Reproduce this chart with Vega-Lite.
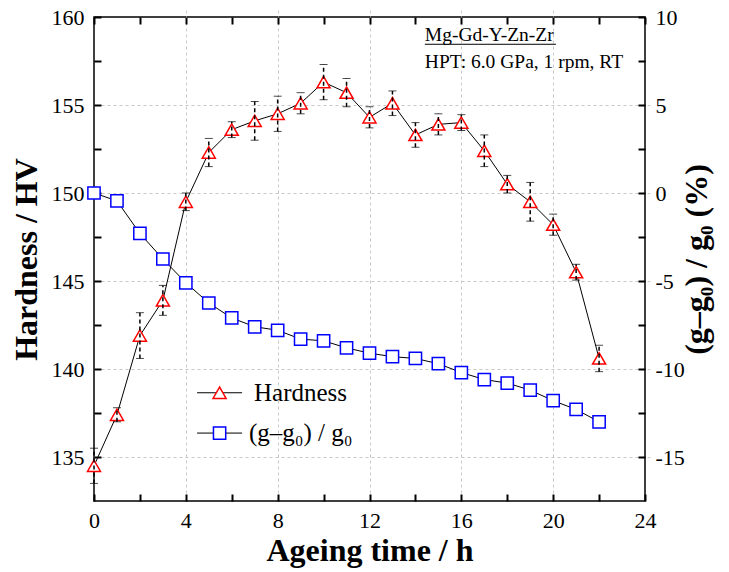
{
  "$schema": "https://vega.github.io/schema/vega-lite/v6.json",
  "width": 551,
  "height": 484,
  "autosize": {"type": "none"},
  "padding": {"left": 94, "top": 17, "right": 84, "bottom": 71},
  "background": "white",
  "config": {
    "font": "Liberation Serif",
    "view": {"stroke": "black", "strokeWidth": 1.5},
    "axis": {
      "labelFont": "Liberation Serif", "labelFontSize": 22, "labelColor": "black",
      "titleFont": "Liberation Serif", "titleFontSize": 32, "titleFontWeight": "bold", "titleColor": "black",
      "domain": false, "ticks": true, "tickColor": "black", "tickOpacity": 1, "tickWidth": 2, "tickSize": 7, "offset": -7,
      "labelFlush": false, "labelOverlap": false,
      "gridColor": "#c8c8c8", "gridDash": [3, 3], "gridWidth": 1
    }
  },
  "datasets": {
    "main": [
      {"s": "Hardness", "t": 0, "v": 134.5, "err": 1.0},
      {"s": "Hardness", "t": 1, "v": 137.4, "err": 0.4},
      {"s": "Hardness", "t": 2, "v": 141.9, "err": 1.3},
      {"s": "Hardness", "t": 3, "v": 143.9, "err": 0.85},
      {"s": "Hardness", "t": 4, "v": 149.5, "err": 0.5},
      {"s": "Hardness", "t": 5, "v": 152.3, "err": 0.8},
      {"s": "Hardness", "t": 6, "v": 153.6, "err": 0.45},
      {"s": "Hardness", "t": 7, "v": 154.1, "err": 1.1},
      {"s": "Hardness", "t": 8, "v": 154.5, "err": 1.0},
      {"s": "Hardness", "t": 9, "v": 155.1, "err": 0.6},
      {"s": "Hardness", "t": 10, "v": 156.3, "err": 1.0},
      {"s": "Hardness", "t": 11, "v": 155.7, "err": 0.8},
      {"s": "Hardness", "t": 12, "v": 154.3, "err": 0.6},
      {"s": "Hardness", "t": 13, "v": 155.1, "err": 0.7},
      {"s": "Hardness", "t": 14, "v": 153.3, "err": 0.7},
      {"s": "Hardness", "t": 15, "v": 153.9, "err": 0.6},
      {"s": "Hardness", "t": 16, "v": 154.0, "err": 0.45},
      {"s": "Hardness", "t": 17, "v": 152.4, "err": 0.9},
      {"s": "Hardness", "t": 18, "v": 150.5, "err": 0.5},
      {"s": "Hardness", "t": 19, "v": 149.5, "err": 1.1},
      {"s": "Hardness", "t": 20, "v": 148.2, "err": 0.6},
      {"s": "Hardness", "t": 21, "v": 145.5, "err": 0.45},
      {"s": "Hardness", "t": 22, "v": 140.6, "err": 0.75},
      {"s": "g", "t": 0, "v": 0.0},
      {"s": "g", "t": 1, "v": -0.45},
      {"s": "g", "t": 2, "v": -2.3},
      {"s": "g", "t": 3, "v": -3.75},
      {"s": "g", "t": 4, "v": -5.1},
      {"s": "g", "t": 5, "v": -6.25},
      {"s": "g", "t": 6, "v": -7.1},
      {"s": "g", "t": 7, "v": -7.6},
      {"s": "g", "t": 8, "v": -7.8},
      {"s": "g", "t": 9, "v": -8.3},
      {"s": "g", "t": 10, "v": -8.4},
      {"s": "g", "t": 11, "v": -8.8},
      {"s": "g", "t": 12, "v": -9.1},
      {"s": "g", "t": 13, "v": -9.3},
      {"s": "g", "t": 14, "v": -9.4},
      {"s": "g", "t": 15, "v": -9.7},
      {"s": "g", "t": 16, "v": -10.2},
      {"s": "g", "t": 17, "v": -10.6},
      {"s": "g", "t": 18, "v": -10.8},
      {"s": "g", "t": 19, "v": -11.2},
      {"s": "g", "t": 20, "v": -11.8},
      {"s": "g", "t": 21, "v": -12.3},
      {"s": "g", "t": 22, "v": -13.0}
    ],
    "notes": [
      {"txt": "Mg-Gd-Y-Zn-Zr", "t": 14.41, "v": 159.0},
      {"txt": "HPT: 6.0 GPa, 1 rpm, RT", "t": 14.41, "v": 157.45}
    ],
    "underline": [
      {"t": 14.41, "t2": 20.12, "v": 158.45}
    ],
    "legend": [
      {"entry": "Hardness", "t": 4.49, "t2": 6.45, "tm": 5.47, "tt": 6.97, "v": 138.65},
      {"entry": "(g–g₀) / g₀", "t": 4.49, "t2": 6.45, "tm": 5.47, "tt": 6.75, "v": 136.36}
    ]
  },
  "layer": [
    {
      "layer": [
        {"data": {"name": "main"},
          "transform": [{"filter": "datum.s == 'Hardness'"}],
          "mark": {"type": "line", "color": "black", "strokeWidth": 1},
          "encoding": {
            "x": {"field": "t", "type": "quantitative", "title": "Ageing time / h",
              "scale": {"domain": [0, 24], "nice": false, "zero": false},
              "axis": {"orient": "bottom", "ticks": true,
                "values": [0, 2, 4, 6, 8, 10, 12, 14, 16, 18, 20, 22, 24],
                "labelExpr": "datum.value % 4 == 0 ? toString(datum.value) : ''",
                "labelPadding": 9, "titlePadding": 4,
                "gridOpacity": {"condition": {"test": "datum.value % 4 == 0 && datum.value > 0 && datum.value < 24", "value": 1}, "value": 0},
                "grid": true}},
            "y": {"field": "v", "type": "quantitative", "title": "Hardness / HV",
              "scale": {"domain": [132.5, 160], "nice": false, "zero": false},
              "axis": {"ticks": true,
                "values": [135, 137.5, 140, 142.5, 145, 147.5, 150, 152.5, 155, 157.5, 160],
                "labelExpr": "datum.value % 5 == 0 ? toString(datum.value) : ''",
                "labelPadding": 10, "titlePadding": 7.5,
                "gridOpacity": {"condition": {"test": "datum.value % 5 == 0 && datum.value < 160", "value": 1}, "value": 0},
                "grid": true}}
          }},
        {"data": {"name": "main"},
          "transform": [{"filter": "datum.s == 'Hardness'"}],
          "mark": {"type": "point", "shape": "triangle-up", "filled": true, "fill": "white", "stroke": "#ff0000", "strokeWidth": 1.5, "size": 170, "opacity": 1},
          "encoding": {"x": {"field": "t", "type": "quantitative", "title": "Ageing time / h"}, "y": {"field": "v", "type": "quantitative", "title": "Hardness / HV"}}},
        {"data": {"name": "main"},
          "transform": [{"filter": "datum.s == 'Hardness'"}],
          "mark": {"type": "errorbar", "color": "black", "ticks": {"size": 8, "strokeWidth": 1.5}, "rule": {"strokeDash": [4, 3], "strokeWidth": 1.5}},
          "encoding": {"x": {"field": "t", "type": "quantitative", "title": "Ageing time / h"}, "y": {"field": "v", "type": "quantitative", "title": "Hardness / HV"}, "yError": {"field": "err"}}},
        {"data": {"name": "notes"},
          "mark": {"type": "text", "align": "left", "baseline": "middle", "fontSize": 19.5, "font": "Liberation Serif", "color": "black"},
          "encoding": {"x": {"field": "t", "type": "quantitative", "title": "Ageing time / h"}, "y": {"field": "v", "type": "quantitative", "title": "Hardness / HV"}, "text": {"field": "txt"}}},
        {"data": {"name": "underline"},
          "mark": {"type": "rule", "color": "black", "strokeWidth": 1},
          "encoding": {"x": {"field": "t", "type": "quantitative", "title": "Ageing time / h"}, "x2": {"field": "t2"}, "y": {"field": "v", "type": "quantitative", "title": "Hardness / HV"}}},
        {"data": {"name": "legend"},
          "mark": {"type": "rule", "color": "black", "strokeWidth": 1},
          "encoding": {"x": {"field": "t", "type": "quantitative", "title": "Ageing time / h"}, "x2": {"field": "t2"}, "y": {"field": "v", "type": "quantitative", "title": "Hardness / HV"}}},
        {"data": {"name": "legend"},
          "mark": {"type": "point", "filled": true, "fill": "white", "strokeWidth": 1.5, "opacity": 1},
          "encoding": {"x": {"field": "tm", "type": "quantitative", "title": "Ageing time / h"}, "y": {"field": "v", "type": "quantitative", "title": "Hardness / HV"},
            "shape": {"field": "entry", "type": "nominal", "scale": {"domain": ["Hardness", "(g–g₀) / g₀"], "range": ["triangle-up", "square"]}, "legend": null},
            "stroke": {"field": "entry", "type": "nominal", "scale": {"domain": ["Hardness", "(g–g₀) / g₀"], "range": ["#ff0000", "#0000ff"]}, "legend": null},
            "size": {"field": "entry", "type": "nominal", "scale": {"domain": ["Hardness", "(g–g₀) / g₀"], "range": [170, 150]}, "legend": null}}},
        {"data": {"name": "legend"},
          "mark": {"type": "text", "align": "left", "baseline": "middle", "fontSize": 25, "font": "Liberation Serif", "color": "black"},
          "encoding": {"x": {"field": "tt", "type": "quantitative", "title": "Ageing time / h"}, "y": {"field": "v", "type": "quantitative", "title": "Hardness / HV"}, "text": {"field": "entry"}}}
      ]
    },
    {
      "data": {"name": "main"},
      "transform": [{"filter": "datum.s == 'g'"}],
      "encoding": {
        "x": {"field": "t", "type": "quantitative",
          "axis": {"orient": "top", "title": null, "labels": false, "grid": false, "ticks": true,
            "values": [0, 2, 4, 6, 8, 10, 12, 14, 16, 18, 20, 22, 24]}},
        "y": {"field": "v", "type": "quantitative",
          "scale": {"domain": [-17.5, 10], "nice": false, "zero": false},
          "axis": {"orient": "right", "title": "(g–g₀) / g₀ (%)", "titleAngle": 270, "titleBaseline": "middle", "ticks": true,
            "values": [-15, -12.5, -10, -7.5, -5, -2.5, 0, 2.5, 5, 7.5, 10],
            "labelExpr": "datum.value % 5 == 0 ? toString(datum.value) : ''",
            "labelPadding": 10, "titlePadding": 12, "grid": false}}
      },
      "layer": [
        {"mark": {"type": "line", "color": "black", "strokeWidth": 1}},
        {"mark": {"type": "point", "shape": "square", "filled": true, "fill": "white", "stroke": "#0000ff", "strokeWidth": 1.5, "size": 150, "opacity": 1}}
      ]
    }
  ],
  "resolve": {"scale": {"y": "independent"}, "axis": {"x": "independent"}}
}
